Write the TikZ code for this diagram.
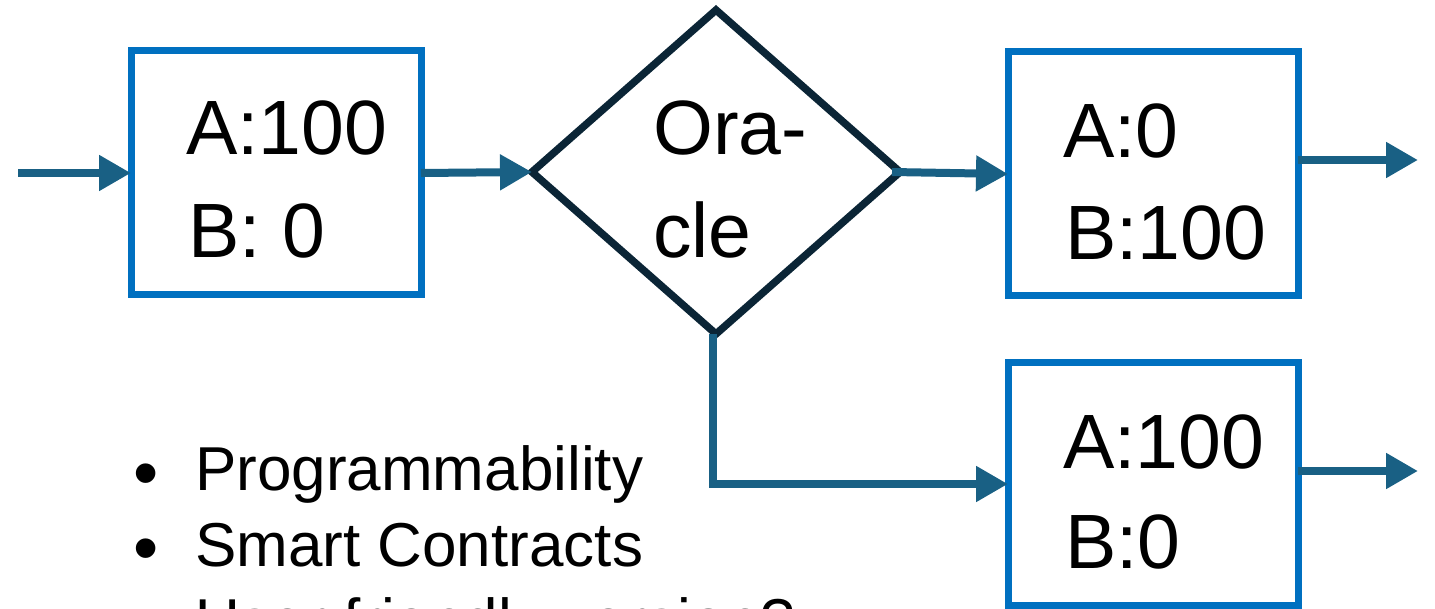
\documentclass[tikz,border=0pt]{standalone}
\usepackage{fontspec}
\setmainfont{Liberation Sans}
\usetikzlibrary{arrows.meta,shapes.geometric}
\definecolor{boxblue}{HTML}{0070C0}
\definecolor{flowteal}{HTML}{196084}
\definecolor{oracleink}{HTML}{0B2536}
\tikzset{
  statebox/.style={draw=boxblue, line width=7pt, rectangle, minimum width=290pt,
    minimum height=244pt, inner sep=0pt, outer sep=0pt},
  decision/.style={draw=oracleink, line width=7.5pt, diamond, minimum width=368pt,
    minimum height=324pt, inner sep=0pt, outer sep=0pt},
  flow/.style={draw=flowteal, line width=8pt,
    -{Triangle[length=32pt,width=34pt]}},
  bigtxt/.style={font=\fontsize{77}{92}\selectfont, inner sep=0pt, anchor=base west},
  listtxt/.style={font=\fontsize{62}{74}\selectfont, inner sep=0pt, anchor=base west},
  dottxt/.style={font=\fontsize{72}{86}\selectfont, inner sep=0pt, anchor=base},
}
\begin{document}
\begin{tikzpicture}[x=1pt, y=-1pt]
\useasboundingbox (0,0) rectangle (1435,609);
\clip (0,0) rectangle (1435,609);

% state boxes and the oracle decision
\node[statebox] (box1) at (276,173) {};
\node[decision] (dia) at (716,172) {};
\node[statebox] (box2) at (1153,174) {};
\node[statebox, minimum height=242pt] (box3) at (1153,484) {};

% box contents
\node[bigtxt] (b1a) at (186,155) {A:100};
\node[bigtxt] (b1b) at (188,258) {B: 0};
\node[bigtxt] (orA) at (653,155) {Ora-};
\node[bigtxt] (orB) at (653,258) {cle};
\node[bigtxt] (b2a) at (1063,158) {A:0};
\node[bigtxt] (b2b) at (1065,260) {B:100};
\node[bigtxt] (b3a) at (1063,468) {A:100};
\node[bigtxt] (b3b) at (1065,568) {B:0};

% connectors
\coordinate (in) at (18,173);
\coordinate (out1) at (1418,160);
\coordinate (out2) at (1418,471);
\draw[flow] (in) -- (box1.west);
\draw[flow] (box1.east) -- (dia.west);
\draw[flow] ([xshift=-8pt]dia.east) -- (box2.west);
\draw[flow] (out1 -| box2.east) -- (out1);
\draw[flow] (out2 -| box3.east) -- (out2);
\draw[flow] ([xshift=-3pt]dia.south) |- (box3.west);

% bullet list
\node[dottxt] (d1) at (146,497) {•};
\node[listtxt] (l1) at (195,490) {Programmability};
\node[dottxt] (d2) at (146,572) {•};
\node[listtxt] (l2) at (195,566) {Smart Contracts};
\node[dottxt] (d3) at (146,647) {•};
\node[listtxt] (l3) at (195,642) {User friendly version?};
\end{tikzpicture}
\end{document}
